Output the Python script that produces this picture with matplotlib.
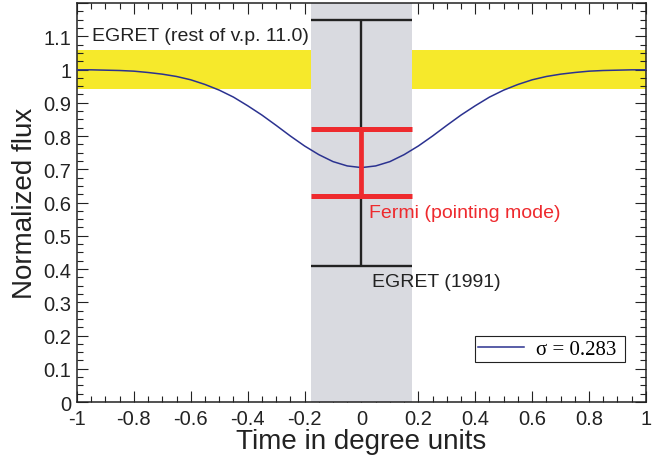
import numpy as np
import matplotlib
matplotlib.use("Agg")
import matplotlib.pyplot as plt
from matplotlib.ticker import MultipleLocator, FuncFormatter

plt.rcParams['font.family'] = ['Liberation Sans', 'DejaVu Sans']
plt.rcParams['axes.unicode_minus'] = False

# fitted curve
time_deg = [-1.0, -0.95, -0.9, -0.85, -0.8, -0.75, -0.7, -0.65, -0.6, -0.55, -0.5,
            -0.45, -0.4, -0.35, -0.3, -0.25, -0.2, -0.15, -0.1, -0.05, 0.0,
            0.05, 0.1, 0.15, 0.2, 0.25, 0.3, 0.35, 0.4, 0.45, 0.5,
            0.55, 0.6, 0.65, 0.7, 0.75, 0.8, 0.85, 0.9, 0.95, 1.0]
flux = [0.999, 0.999, 0.998, 0.997, 0.995, 0.991, 0.986, 0.979, 0.969, 0.955, 0.938,
        0.917, 0.891, 0.863, 0.832, 0.800, 0.770, 0.744, 0.723, 0.710, 0.705,
        0.710, 0.723, 0.744, 0.770, 0.800, 0.832, 0.863, 0.891, 0.917, 0.938,
        0.955, 0.969, 0.979, 0.986, 0.991, 0.995, 0.997, 0.998, 0.999, 0.999]
sigma_label = "σ = 0.283"

# pointing window
window = [-0.177, 0.177]
# EGRET rest of v.p. 11.0 band
egret_band = [0.94, 1.06]
# EGRET (1991) and Fermi measurements (low, high)
egret_1991 = [0.41, 1.15]
fermi = [0.62, 0.82]

fig = plt.figure(figsize=(6.7, 4.6), dpi=100)
ax = fig.add_axes([0.1149, 0.1239, 0.8492, 0.8674])

ax.axhspan(egret_band[0], egret_band[1], color='#f6e92b', lw=0, zorder=1)
ax.axvspan(window[0], window[1], color='#d9dae0', lw=0, zorder=2)

ax.plot(time_deg, flux, color='#2b3290', lw=1.1, zorder=3, label=sigma_label)

ax.vlines(0, egret_1991[0], egret_1991[1], color='#222222', lw=1.7, zorder=4)
ax.hlines(egret_1991, window[0], window[1], color='#222222', lw=1.7, zorder=4)
ax.vlines(0, fermi[0], fermi[1], color='#ee2a2e', lw=3.4, zorder=5)
ax.hlines(fermi, window[0], window[1], color='#ee2a2e', lw=3.6, zorder=5)

ax.text(-0.947, 1.102, "EGRET (rest of v.p. 11.0)", fontsize=14, color='#222222',
        va='center', ha='left', zorder=6)
ax.text(0.025, 0.569, "Fermi (pointing mode)", fontsize=14, color='#ee2a2e',
        va='center', ha='left', zorder=6)
ax.text(0.037, 0.361, "EGRET (1991)", fontsize=14, color='#222222',
        va='center', ha='left', zorder=6)

ax.set_xlim(-1, 1)
ax.set_ylim(0, 1.2)
ax.xaxis.set_major_locator(MultipleLocator(0.2))
ax.xaxis.set_minor_locator(MultipleLocator(0.05))
ax.yaxis.set_major_locator(MultipleLocator(0.1))
ax.yaxis.set_minor_locator(MultipleLocator(0.025))
fmt = FuncFormatter(lambda v, p: f"{round(v, 2):g}")
ax.xaxis.set_major_formatter(fmt)
ax.yaxis.set_major_formatter(FuncFormatter(lambda v, p: "" if v > 1.15 else f"{round(v, 2):g}"))
ax.tick_params(which='both', direction='in', top=True, right=True, width=0.8,
               color='#222222', labelsize=14.5, labelcolor='#222222')
ax.tick_params(which='major', length=8)
ax.tick_params(which='minor', length=4)
ax.tick_params(axis='x', pad=5)
ax.tick_params(axis='y', pad=4)
for s in ax.spines.values():
    s.set_linewidth(1.1)
    s.set_color('#222222')

ax.set_xlabel("Time in degree units", fontsize=20, color='#222222', labelpad=0)
ax.set_ylabel("Normalized flux", fontsize=20, color='#222222', labelpad=4)

leg = ax.legend(loc='lower left', bbox_to_anchor=(0.6995, 0.100, 0.264, 0.065),
                mode='expand', borderaxespad=0, fancybox=False, framealpha=1,
                edgecolor='#222222', handlelength=2.2,
                prop={'family': ['Liberation Serif', 'DejaVu Serif'], 'size': 15},
                borderpad=0.15, handletextpad=0.6)
leg.get_frame().set_linewidth(0.8)
leg.set_zorder(7)

fig.savefig("out.png", dpi=100)
